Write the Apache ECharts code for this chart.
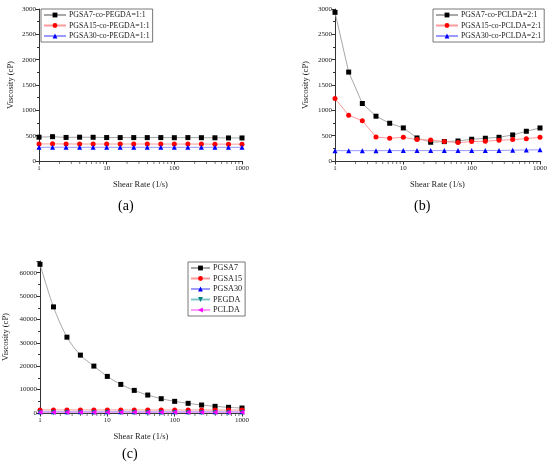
<!DOCTYPE html>
<html>
<head>
<meta charset="utf-8">
<script src="https://cdn.jsdelivr.net/npm/echarts@6/dist/echarts.min.js"></script>
<style>
  html, body { margin: 0; padding: 0; background: #fff; }
  #main { width: 550px; height: 472px; }
</style>
</head>
<body>
<div id="main"></div>
<script>
var shearRate = [1, 1.585, 2.512, 3.981, 6.31, 10, 15.85, 25.12, 39.81, 63.1, 100, 158.5, 251.2, 398.1, 631, 1000];

// (a) PGSA-co-PEGDA = 1:1
var a7 = [470, 480, 465, 470, 468, 463, 462, 462, 462, 462, 460, 462, 460, 458, 455, 455];
var a15 = [335, 338, 336, 336, 335, 335, 335, 335, 335, 334, 334, 334, 334, 333, 333, 333];
var a30 = [270, 272, 271, 271, 271, 271, 271, 271, 270, 270, 270, 270, 270, 270, 270, 270];

// (b) PGSA-co-PCLDA = 2:1
var b7 = [2934, 1755, 1135, 884, 745, 653, 455, 370, 383, 395, 429, 449, 468, 514, 587, 652];
var b15 = [1234, 904, 792, 475, 449, 468, 422, 415, 383, 363, 383, 390, 409, 422, 441, 468];
var b30 = [204, 204, 204, 204, 205, 205, 205, 205, 205, 205, 206, 207, 208, 213, 218, 220];

// (c) pure prepolymers
var c7 = [63580, 45380, 32430, 24750, 20060, 15650, 12230, 9670, 7680, 6120, 4980, 4130, 3410, 2850, 2420, 2130];
var c15 = [1300, 1320, 1310, 1300, 1300, 1300, 1290, 1290, 1280, 1280, 1270, 1270, 1260, 1250, 1250, 1240];
var c30 = [520, 520, 515, 515, 510, 510, 510, 505, 505, 500, 500, 500, 495, 495, 490, 490];
var cPEGDA = [150, 150, 150, 150, 150, 150, 150, 150, 150, 150, 150, 150, 150, 150, 150, 150];
var cPCLDA = [300, 300, 300, 300, 300, 300, 300, 300, 300, 300, 300, 300, 300, 300, 300, 300];

// axis ranges [min, max, interval] and log minor tick positions
var yTicksAB = [0, 3000, 500];
var yTicksC = [0, 65000, 10000];
var xMinorTicks = [2, 3, 4, 5, 6, 7, 8, 9, 20, 30, 40, 50, 60, 70, 80, 90, 200, 300, 400, 500, 600, 700, 800, 900];

var FONT = 'Liberation Serif';

function pairs(ys) {
    return ys.map(function (v, i) { return [shearRate[i], v]; });
}

var styles = {
    black: { marker: '#000000', line: '#a8a8a8', symbol: 'rect', rotate: 0 },
    red: { marker: '#ff0000', line: '#ff9a9a', symbol: 'circle', rotate: 0 },
    blue: { marker: '#0000ff', line: '#9a9aff', symbol: 'triangle', rotate: 0 },
    teal: { marker: '#008080', line: '#80c8c8', symbol: 'triangle', rotate: 180 },
    magenta: { marker: '#ff00ff', line: '#ff9aff', symbol: 'triangle', rotate: 90 }
};

function makeSeries(name, ys, idx, st, smooth) {
    var s = styles[st];
    return {
        name: name,
        type: 'line',
        xAxisIndex: idx,
        yAxisIndex: idx,
        data: pairs(ys),
        symbol: s.symbol,
        symbolRotate: s.rotate,
        symbolSize: 5,
        smooth: smooth ? 0.3 : false,
        itemStyle: { color: s.marker },
        lineStyle: { color: s.line, width: 1 },
        z: 3,
        animation: false
    };
}

// minor ticks of the log axis, placed through the axis scale
function minorTickSeries(idx) {
    return {
        type: 'scatter',
        xAxisIndex: idx,
        yAxisIndex: idx,
        data: xMinorTicks.map(function (v) { return [v, 0]; }),
        symbol: 'rect',
        symbolSize: [0.8, 2.5],
        symbolOffset: [0, 1.75],
        itemStyle: { color: '#333' },
        silent: true,
        clip: false,
        z: 1,
        animation: false
    };
}

function plain(v) {
    return String(Math.round(v));
}

function xAxis(idx) {
    return {
        type: 'log',
        gridIndex: idx,
        min: 1,
        max: 1000,
        logBase: 10,
        name: 'Shear Rate (1/s)',
        nameLocation: 'middle',
        nameGap: 19,
        nameTextStyle: { fontFamily: FONT, fontSize: 8.5, color: '#222' },
        axisLine: { lineStyle: { color: '#333', width: 1 } },
        axisTick: { length: 3.5, lineStyle: { color: '#333' } },
        minorTick: { show: false },
        axisLabel: { fontFamily: FONT, fontSize: 7, color: '#222', margin: 4, formatter: plain },
        splitLine: { show: false }
    };
}

function yAxis(idx, ticks, gap) {
    return {
        type: 'value',
        gridIndex: idx,
        min: ticks[0],
        max: ticks[1],
        interval: ticks[2],
        name: 'Viscosity (cP)',
        nameLocation: 'middle',
        nameGap: gap,
        nameTextStyle: { fontFamily: FONT, fontSize: 8.5, color: '#222' },
        axisLine: { show: true, lineStyle: { color: '#333', width: 1 } },
        axisTick: { show: true, length: 3.5, lineStyle: { color: '#333' } },
        minorTick: { show: true, splitNumber: 2, length: 2, lineStyle: { color: '#333' } },
        axisLabel: {
            fontFamily: FONT, fontSize: 7, color: '#222', margin: 3,
            showMaxLabel: ticks[1] % ticks[2] === 0,
            formatter: plain
        },
        splitLine: { show: false }
    };
}

function legend(names, left, top, fontSize, itemWidth) {
    return {
        data: names,
        orient: 'vertical',
        left: left,
        top: top,
        padding: [2, 3, 2, 2],
        itemGap: 2.5,
        itemWidth: itemWidth,
        itemHeight: 6,
        borderColor: '#555',
        borderWidth: 0.8,
        backgroundColor: '#fff',
        textStyle: { fontFamily: FONT, fontSize: fontSize, color: '#222', padding: [0, 0, 0, -2] }
    };
}

var myChart = echarts.init(document.getElementById('main'));

var option = {
    backgroundColor: '#fff',
    grid: [
        { left: 39, top: 9, width: 203, height: 152 },
        { left: 335, top: 9, width: 205, height: 152 },
        { left: 39, top: 261, width: 203, height: 152 }
    ],
    xAxis: [xAxis(0), xAxis(1), xAxis(2)],
    yAxis: [yAxis(0, yTicksAB, 24), yAxis(1, yTicksAB, 25), yAxis(2, yTicksC, 30)],
    legend: [
        legend(['PGSA7-co-PEGDA=1:1', 'PGSA15-co-PEGDA=1:1', 'PGSA30-co-PEGDA=1:1'], 41, 9, 7.8, 22),
        legend(['PGSA7-co-PCLDA=2:1', 'PGSA15-co-PCLDA=2:1', 'PGSA30-co-PCLDA=2:1'], 433, 9, 7.8, 22),
        legend(['PGSA7', 'PGSA15', 'PGSA30', 'PEGDA', 'PCLDA'], 188, 262, 8.2, 19)
    ],
    series: [
        makeSeries('PGSA7-co-PEGDA=1:1', a7, 0, 'black'),
        makeSeries('PGSA15-co-PEGDA=1:1', a15, 0, 'red'),
        makeSeries('PGSA30-co-PEGDA=1:1', a30, 0, 'blue'),
        makeSeries('PGSA7-co-PCLDA=2:1', b7, 1, 'black'),
        makeSeries('PGSA15-co-PCLDA=2:1', b15, 1, 'red'),
        makeSeries('PGSA30-co-PCLDA=2:1', b30, 1, 'blue'),
        makeSeries('PGSA7', c7, 2, 'black', true),
        makeSeries('PGSA15', c15, 2, 'red'),
        makeSeries('PGSA30', c30, 2, 'blue'),
        makeSeries('PEGDA', cPEGDA, 2, 'teal'),
        makeSeries('PCLDA', cPCLDA, 2, 'magenta'),
        minorTickSeries(0),
        minorTickSeries(1),
        minorTickSeries(2)
    ],
    graphic: [
        { type: 'text', left: 118, top: 199, style: { text: '(a)', fontFamily: FONT, fontSize: 14, fill: '#000' } },
        { type: 'text', left: 414, top: 199, style: { text: '(b)', fontFamily: FONT, fontSize: 14, fill: '#000' } },
        { type: 'text', left: 122, top: 447, style: { text: '(c)', fontFamily: FONT, fontSize: 14, fill: '#000' } }
    ]
};

if (option && typeof option === "object") {
    myChart.setOption(option, true);
}
</script>
</body>
</html>
